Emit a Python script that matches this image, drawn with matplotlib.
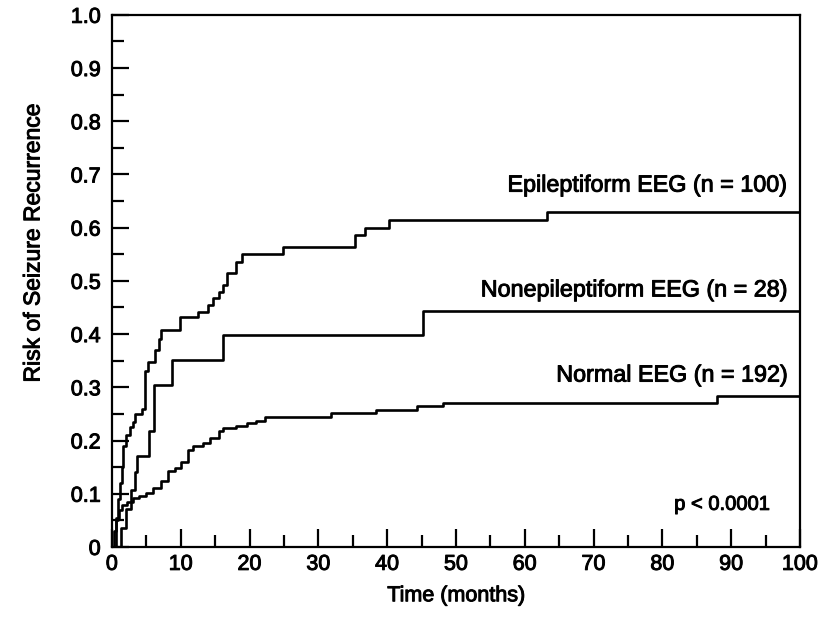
import matplotlib
matplotlib.use("Agg")
import matplotlib.pyplot as plt
import matplotlib.patheffects as pe
from matplotlib.ticker import MultipleLocator, FixedLocator

plt.rcParams['font.family'] = ['Liberation Sans', 'DejaVu Sans']

# Normal EEG (n = 192)
normal_t = [0, 0.3, 0.6, 1.0, 1.4, 2.2, 3.1, 4.0, 5.0, 6.0, 7.2, 8.2, 9.2, 10.1, 11.1, 11.8,
            13.3, 14.2, 15.5, 16.2, 18.1, 19.6, 21.0, 22.2, 31.9, 38.4, 44.3, 48.1, 87.9, 100]
normal_v = [0, 0.03, 0.055, 0.07, 0.079, 0.085, 0.092, 0.096, 0.101, 0.110, 0.123, 0.142, 0.148,
            0.160, 0.182, 0.189, 0.195, 0.204, 0.217, 0.223, 0.227, 0.233, 0.237, 0.244, 0.252,
            0.258, 0.265, 0.271, 0.284, 0.284]

# Epileptiform EEG (n = 100)
epi_t = [0, 0.6, 0.9, 1.2, 1.4, 1.6, 2.1, 2.6, 3.0, 3.3, 4.3, 4.8, 5.2, 6.3, 6.8, 7.2, 9.9,
         12.5, 14.0, 14.7, 15.5, 16.2, 16.7, 18.1, 18.85, 24.8, 35.3, 36.8, 40.3, 63.3, 100]
epi_v = [0, 0.05, 0.09, 0.12, 0.15, 0.19, 0.21, 0.225, 0.235, 0.25, 0.26, 0.33, 0.348, 0.37,
         0.39, 0.408, 0.433, 0.442, 0.455, 0.467, 0.480, 0.492, 0.515, 0.536, 0.551, 0.564,
         0.586, 0.599, 0.615, 0.630, 0.630]

# Nonepileptiform EEG (n = 28)
nonepi_t = [0, 1.3, 2.0, 2.8, 3.3, 3.7, 5.4, 6.1, 8.8, 16.1, 45.2, 100]
nonepi_v = [0, 0.036, 0.071, 0.107, 0.14, 0.17, 0.217, 0.305, 0.351, 0.398, 0.443, 0.443]

labels = ["Epileptiform EEG (n = 100)", "Nonepileptiform EEG (n = 28)", "Normal EEG (n = 192)"]
label_y = [0.680, 0.483, 0.323]
pvalue_text = "p < 0.0001"

xticks = list(range(0, 101, 10))
yticks = [0, 0.1, 0.2, 0.3, 0.4, 0.5, 0.6, 0.7, 0.8, 0.9, 1.0]
ytick_labels = ["0", "0.1", "0.2", "0.3", "0.4", "0.5", "0.6", "0.7", "0.8", "0.9", "1.0"]

stroke = [pe.withStroke(linewidth=0.7, foreground='black')]

fig = plt.figure(figsize=(8.23, 6.18), dpi=100)
ax = fig.add_axes([0.136, 0.115, 0.836, 0.861])

lw = 1.9
ax.step(normal_t, normal_v, where='post', color='black', lw=lw)
ax.step(epi_t, epi_v, where='post', color='black', lw=lw)
ax.step(nonepi_t, nonepi_v, where='post', color='black', lw=lw)

ax.set_xlim(0, 100)
ax.set_ylim(0, 1.0)
ax.xaxis.set_major_locator(FixedLocator(xticks))
ax.xaxis.set_minor_locator(MultipleLocator(5))
ax.yaxis.set_major_locator(FixedLocator(yticks))
ax.yaxis.set_minor_locator(MultipleLocator(0.05))
ax.set_yticklabels(ytick_labels)
ax.set_xticklabels([str(x) for x in xticks])

for s in ax.spines.values():
    s.set_linewidth(1.6)

ax.tick_params(axis='both', which='both', direction='in', width=1.6, labelsize=15.5,
               top=False, right=False)
ax.tick_params(axis='y', which='major', length=12, pad=8)
ax.tick_params(axis='y', which='minor', length=8.5)
ax.tick_params(axis='x', which='major', length=13, pad=5)
ax.tick_params(axis='x', which='minor', length=9)
for t in ax.get_xticklabels() + ax.get_yticklabels():
    t.set_path_effects(stroke)

ax.set_xlabel("Time (months)", fontsize=15.5, path_effects=stroke)
ax.xaxis.set_label_coords(0.5, -0.072)
ax.set_ylabel("Risk of Seizure Recurrence", fontsize=16.5, path_effects=stroke)
ax.yaxis.set_label_coords(-0.098, 0.571)

for lab, yy in zip(labels, label_y):
    ax.text(98.3, yy, lab, ha='right', va='center', fontsize=16.8, path_effects=stroke)
ax.text(95.6, 0.08, pvalue_text, ha='right', va='center', fontsize=14.5, path_effects=stroke)

fig.savefig("out.png", dpi=100)
